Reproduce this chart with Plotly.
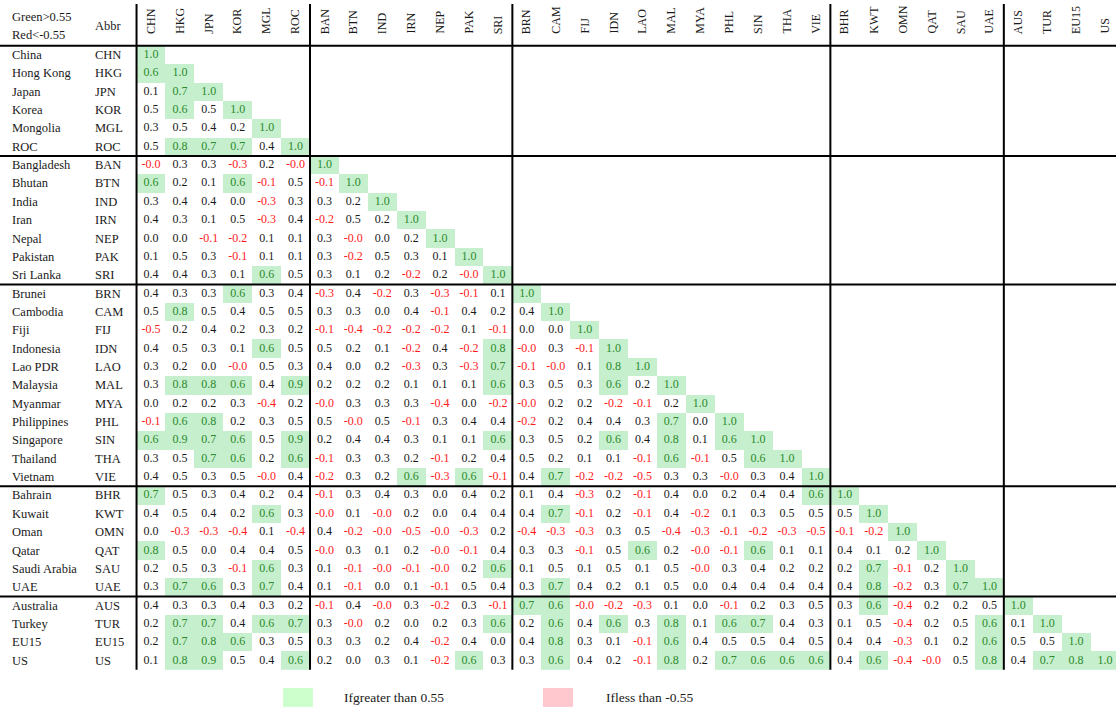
import numpy as np
import plotly.graph_objects as go

names = ["China", "Hong Kong", "Japan", "Korea", "Mongolia", "ROC",
         "Bangladesh", "Bhutan", "India", "Iran", "Nepal", "Pakistan", "Sri Lanka",
         "Brunei", "Cambodia", "Fiji", "Indonesia", "Lao PDR", "Malaysia", "Myanmar",
         "Philippines", "Singapore", "Thailand", "Vietnam",
         "Bahrain", "Kuwait", "Oman", "Qatar", "Saudi Arabia", "UAE",
         "Australia", "Turkey", "EU15", "US"]
abbr = ["CHN", "HKG", "JPN", "KOR", "MGL", "ROC",
        "BAN", "BTN", "IND", "IRN", "NEP", "PAK", "SRI",
        "BRN", "CAM", "FIJ", "IDN", "LAO", "MAL", "MYA", "PHL", "SIN", "THA", "VIE",
        "BHR", "KWT", "OMN", "QAT", "SAU", "UAE",
        "AUS", "TUR", "EU15", "US"]
group_sizes = [6, 7, 11, 6, 4]

# lower triangle of the correlation matrix, one list per row
chn = [1.0]
hkg = [0.6, 1.0]
jpn = [0.1, 0.7, 1.0]
kor = [0.5, 0.6, 0.5, 1.0]
mgl = [0.3, 0.5, 0.4, 0.2, 1.0]
roc = [0.5, 0.8, 0.7, 0.7, 0.4, 1.0]
ban = [-0.0, 0.3, 0.3, -0.3, 0.2, -0.0, 1.0]
btn = [0.6, 0.2, 0.1, 0.6, -0.1, 0.5, -0.1, 1.0]
ind = [0.3, 0.4, 0.4, 0.0, -0.3, 0.3, 0.3, 0.2, 1.0]
irn = [0.4, 0.3, 0.1, 0.5, -0.3, 0.4, -0.2, 0.5, 0.2, 1.0]
nep = [0.0, 0.0, -0.1, -0.2, 0.1, 0.1, 0.3, -0.0, 0.0, 0.2, 1.0]
pak = [0.1, 0.5, 0.3, -0.1, 0.1, 0.1, 0.3, -0.2, 0.5, 0.3, 0.1, 1.0]
sri = [0.4, 0.4, 0.3, 0.1, 0.6, 0.5, 0.3, 0.1, 0.2, -0.2, 0.2, -0.0, 1.0]
brn = [0.4, 0.3, 0.3, 0.6, 0.3, 0.4, -0.3, 0.4, -0.2, 0.3, -0.3, -0.1, 0.1, 1.0]
cam = [0.5, 0.8, 0.5, 0.4, 0.5, 0.5, 0.3, 0.3, 0.0, 0.4, -0.1, 0.4, 0.2, 0.4, 1.0]
fij = [-0.5, 0.2, 0.4, 0.2, 0.3, 0.2, -0.1, -0.4, -0.2, -0.2, -0.2, 0.1, -0.1, 0.0, 0.0, 1.0]
idn = [0.4, 0.5, 0.3, 0.1, 0.6, 0.5, 0.5, 0.2, 0.1, -0.2, 0.4, -0.2, 0.8, -0.0, 0.3, -0.1, 1.0]
lao = [0.3, 0.2, 0.0, -0.0, 0.5, 0.3, 0.4, 0.0, 0.2, -0.3, 0.3, -0.3, 0.7, -0.1, -0.0, 0.1, 0.8, 1.0]
mal = [0.3, 0.8, 0.8, 0.6, 0.4, 0.9, 0.2, 0.2, 0.2, 0.1, 0.1, 0.1, 0.6, 0.3, 0.5, 0.3, 0.6, 0.2, 1.0]
mya = [0.0, 0.2, 0.2, 0.3, -0.4, 0.2, -0.0, 0.3, 0.3, 0.3, -0.4, 0.0, -0.2, -0.0, 0.2, 0.2, -0.2, -0.1, 0.2, 1.0]
phl = [-0.1, 0.6, 0.8, 0.2, 0.3, 0.5, 0.5, -0.0, 0.5, -0.1, 0.3, 0.4, 0.4, -0.2, 0.2, 0.4, 0.4, 0.3, 0.7, 0.0, 1.0]
sin = [0.6, 0.9, 0.7, 0.6, 0.5, 0.9, 0.2, 0.4, 0.4, 0.3, 0.1, 0.1, 0.6, 0.3, 0.5, 0.2, 0.6, 0.4, 0.8, 0.1, 0.6, 1.0]
tha = [0.3, 0.5, 0.7, 0.6, 0.2, 0.6, -0.1, 0.3, 0.3, 0.2, -0.1, 0.2, 0.4, 0.5, 0.2, 0.1, 0.1, -0.1, 0.6, -0.1, 0.5, 0.6, 1.0]
vie = [0.4, 0.5, 0.3, 0.5, -0.0, 0.4, -0.2, 0.3, 0.2, 0.6, -0.3, 0.6, -0.1, 0.4, 0.7, -0.2, -0.2, -0.5, 0.3, 0.3, -0.0, 0.3, 0.4, 1.0]
bhr = [0.7, 0.5, 0.3, 0.4, 0.2, 0.4, -0.1, 0.3, 0.4, 0.3, 0.0, 0.4, 0.2, 0.1, 0.4, -0.3, 0.2, -0.1, 0.4, 0.0, 0.2, 0.4, 0.4, 0.6, 1.0]
kwt = [0.4, 0.5, 0.4, 0.2, 0.6, 0.3, -0.0, 0.1, -0.0, 0.2, 0.0, 0.4, 0.4, 0.4, 0.7, -0.1, 0.2, -0.1, 0.4, -0.2, 0.1, 0.3, 0.5, 0.5, 0.5, 1.0]
omn = [0.0, -0.3, -0.3, -0.4, 0.1, -0.4, 0.4, -0.2, -0.0, -0.5, -0.0, -0.3, 0.2, -0.4, -0.3, -0.3, 0.3, 0.5, -0.4, -0.3, -0.1, -0.2, -0.3, -0.5, -0.1, -0.2, 1.0]
qat = [0.8, 0.5, 0.0, 0.4, 0.4, 0.5, -0.0, 0.3, 0.1, 0.2, -0.0, -0.1, 0.4, 0.3, 0.3, -0.1, 0.5, 0.6, 0.2, -0.0, -0.1, 0.6, 0.1, 0.1, 0.4, 0.1, 0.2, 1.0]
sau = [0.2, 0.5, 0.3, -0.1, 0.6, 0.3, 0.1, -0.1, -0.0, -0.1, -0.0, 0.2, 0.6, 0.1, 0.5, 0.1, 0.5, 0.1, 0.5, -0.0, 0.3, 0.4, 0.2, 0.2, 0.2, 0.7, -0.1, 0.2, 1.0]
uae = [0.3, 0.7, 0.6, 0.3, 0.7, 0.4, 0.1, -0.1, 0.0, 0.1, -0.1, 0.5, 0.4, 0.3, 0.7, 0.4, 0.2, 0.1, 0.5, 0.0, 0.4, 0.4, 0.4, 0.4, 0.4, 0.8, -0.2, 0.3, 0.7, 1.0]
aus = [0.4, 0.3, 0.3, 0.4, 0.3, 0.2, -0.1, 0.4, -0.0, 0.3, -0.2, 0.3, -0.1, 0.7, 0.6, -0.0, -0.2, -0.3, 0.1, 0.0, -0.1, 0.2, 0.3, 0.5, 0.3, 0.6, -0.4, 0.2, 0.2, 0.5, 1.0]
tur = [0.2, 0.7, 0.7, 0.4, 0.6, 0.7, 0.3, -0.0, 0.2, 0.0, 0.2, 0.3, 0.6, 0.2, 0.6, 0.4, 0.6, 0.3, 0.8, 0.1, 0.6, 0.7, 0.4, 0.3, 0.1, 0.5, -0.4, 0.2, 0.5, 0.6, 0.1, 1.0]
eu15 = [0.2, 0.7, 0.8, 0.6, 0.3, 0.5, 0.3, 0.3, 0.2, 0.4, -0.2, 0.4, 0.0, 0.4, 0.8, 0.3, 0.1, -0.1, 0.6, 0.4, 0.5, 0.5, 0.4, 0.5, 0.4, 0.4, -0.3, 0.1, 0.2, 0.6, 0.5, 0.5, 1.0]
us = [0.1, 0.8, 0.9, 0.5, 0.4, 0.6, 0.2, 0.0, 0.3, 0.1, -0.2, 0.6, 0.3, 0.3, 0.6, 0.4, 0.2, -0.1, 0.8, 0.2, 0.7, 0.6, 0.6, 0.6, 0.4, 0.6, -0.4, -0.0, 0.5, 0.8, 0.4, 0.7, 0.8, 1.0]

rows = [chn, hkg, jpn, kor, mgl, roc, ban, btn, ind, irn, nep, pak, sri,
        brn, cam, fij, idn, lao, mal, mya, phl, sin, tha, vie,
        bhr, kwt, omn, qat, sau, uae, aus, tur, eu15, us]

FONT = "Liberation Serif"
GREEN_FILL = "#c6efce"
PINK_FILL = "#ffc7ce"
INK = "#1a1a1a"
n = len(abbr)

z = np.full((n, n), np.nan)
txt = {"black": ([], [], []), "red": ([], [], []), "green": ([], [], [])}
for i, row in enumerate(rows):
    for j, v in enumerate(row):
        if v > 0.55:
            z[i, j] = 1
            key = "green"
        elif v < -0.55:
            z[i, j] = -1
            key = "red"
        elif np.signbit(v):
            key = "red"
        else:
            key = "black"
        txt[key][0].append(j)
        txt[key][1].append(i)
        txt[key][2].append(f"{v:.1f}")

fig = go.Figure()
fig.add_trace(go.Heatmap(
    z=z, x=list(range(n)), y=list(range(n)),
    colorscale=[[0, PINK_FILL], [0.5, PINK_FILL], [0.5, GREEN_FILL], [1, GREEN_FILL]],
    zmin=-1, zmax=1, showscale=False, hoverinfo="skip"
))
colors = {"black": INK, "red": "#ff1a1a", "green": "#2b8a2b"}
for key, (xs, ys, ts) in txt.items():
    fig.add_trace(go.Scatter(
        x=xs, y=ys, text=ts, mode="text", hoverinfo="skip",
        textfont=dict(family=FONT, size=12, color=colors[key])
    ))

# row labels and rotated column headers
lab_font = dict(family=FONT, size=12.5, color=INK)
for i in range(n):
    fig.add_annotation(x=-4.88, y=i, text=names[i], showarrow=False,
                       xanchor="left", font=lab_font)
    fig.add_annotation(x=-2.0, y=i, text=abbr[i], showarrow=False,
                       xanchor="left", font=lab_font)
    fig.add_annotation(x=i, y=-1.04, text=abbr[i], showarrow=False, textangle=-90,
                       yanchor="bottom", font=dict(family=FONT, size=12, color=INK))

fig.add_annotation(x=-4.88, y=-2.07, text="Green>0.55", showarrow=False,
                   xanchor="left", font=lab_font)
fig.add_annotation(x=-4.88, y=-1.09, text="Red<-0.55", showarrow=False,
                   xanchor="left", font=lab_font)
fig.add_annotation(x=-2.0, y=-1.58, text="Abbr", showarrow=False,
                   xanchor="left", font=lab_font)

# group separators
bounds = np.cumsum([0] + group_sizes) - 0.5
for b in bounds[:-1]:
    fig.add_shape(type="line", xref="paper", x0=0, x1=1, y0=b, y1=b,
                  line=dict(color="black", width=2))
    fig.add_shape(type="line", x0=b, x1=b, y0=-2.78, y1=n - 0.5,
                  line=dict(color="black", width=2))

# legend
fig.add_shape(type="rect", x0=4.57, x1=5.6, y0=34.49, y1=35.52,
              fillcolor="#ccffcc", line=dict(width=0))
fig.add_annotation(x=6.6, y=35.03, text="Ifgreater than 0.55", showarrow=False,
                   xanchor="left", font=dict(family=FONT, size=13.5, color=INK))
fig.add_shape(type="rect", x0=13.56, x1=14.6, y0=34.49, y1=35.52,
              fillcolor=PINK_FILL, line=dict(width=0))
fig.add_annotation(x=15.66, y=35.03, text="Ifless than -0.55", showarrow=False,
                   xanchor="left", font=dict(family=FONT, size=13.5, color=INK))

fig.update_xaxes(visible=False, range=[-5.223, 33.38])
fig.update_yaxes(visible=False, range=[35.58, -2.996])
fig.update_layout(
    width=1116, height=708,
    margin=dict(l=0, r=0, t=0, b=0),
    plot_bgcolor="white", paper_bgcolor="white",
    showlegend=False
)

# drop the default page margin so the figure fills the window
fig.write_html("out.html",
               config={"displayModeBar": False},
               post_script="document.body.style.margin='0';"
                           "document.body.style.overflow='hidden';")
